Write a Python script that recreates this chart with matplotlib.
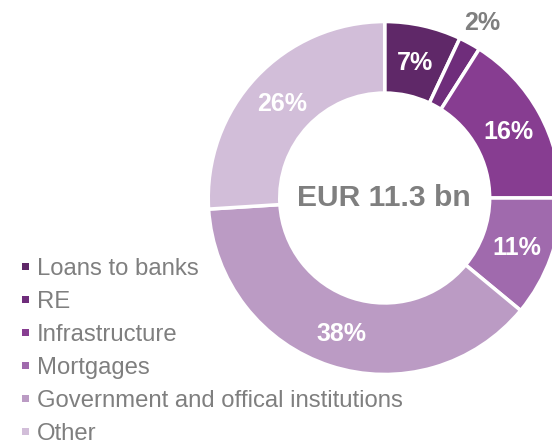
import numpy as np
import matplotlib
matplotlib.use("Agg")
import matplotlib.pyplot as plt
from matplotlib.patches import Rectangle

plt.rcParams["font.family"] = ["Liberation Sans", "DejaVu Sans"]

# Portfolio breakdown
categories = ["Loans to banks", "RE", "Infrastructure", "Mortgages",
              "Government and offical institutions", "Other"]
shares = [7, 2, 16, 11, 38, 26]
colors = ["#5f2868", "#6f2d7b", "#873d91", "#a06aad", "#bb9bc4", "#d2bed9"]
total_label = "EUR 11.3 bn"
outside_labels = ["RE"]  # small slices labelled outside the ring

W, H, DPI = 552, 440, 100
fig = plt.figure(figsize=(W / DPI, H / DPI), dpi=DPI)
fig.patch.set_facecolor("white")

# donut geometry in pixels
cx, cy, r_out, r_in = 384.7, 198.0, 174.7, 106.7
gap_px = 3.5
ax = fig.add_axes([(cx - r_out) / W, (H - cy - r_out) / H,
                   2 * r_out / W, 2 * r_out / H])

half = gap_px / 2 / r_out
radius = 1 + half
inner = r_in / r_out - half
wedges, _ = ax.pie(shares, colors=colors, startangle=90, counterclock=False,
                   radius=radius,
                   wedgeprops=dict(width=radius - inner, edgecolor="white",
                                   linewidth=gap_px * 72 / DPI))
for w in wedges:
    w.set_clip_on(False)
ax.set_xlim(-1, 1)
ax.set_ylim(-1, 1)
ax.set_aspect("equal")
ax.axis("off")

# percentage labels
cum = np.cumsum(shares) - np.array(shares) / 2
tot = float(sum(shares))
mid_r = (r_out + r_in) / 2 / r_out
lab_pt = 18
for cat, s, c in zip(categories, shares, cum):
    ang = np.deg2rad(90 - 360 * c / tot)
    if cat in outside_labels:
        rr, col = 1.154, "#7f7f7f"
    else:
        rr, col = mid_r, "white"
    ax.annotate(f"{s}%", xy=(rr * np.cos(ang), rr * np.sin(ang)),
                xytext=(0, -0.358 * lab_pt), textcoords="offset points",
                ha="center", va="baseline", fontsize=lab_pt,
                fontweight="bold", color=col, annotation_clip=False)

# total in the centre
fig.text(384 / W, 1 - 205.5 / H, total_label, ha="center", va="baseline",
         fontsize=21.6, fontweight="bold", color="#7f7f7f")

# legend entries
base0, step = 275.0, 33.0
for i, (cat, col) in enumerate(zip(categories, colors)):
    b = base0 + i * step
    sq = 7.2
    fig.add_artist(Rectangle(((21.8) / W, 1 - (b - 8.3 + sq / 2) / H),
                             sq / W, sq / H, transform=fig.transFigure,
                             facecolor=col, edgecolor="none"))
    fig.text(37.0 / W, 1 - b / H, cat, ha="left", va="baseline",
             fontsize=17.2, color="#7f7f7f")

fig.savefig("out.png", dpi=DPI, facecolor="white")
